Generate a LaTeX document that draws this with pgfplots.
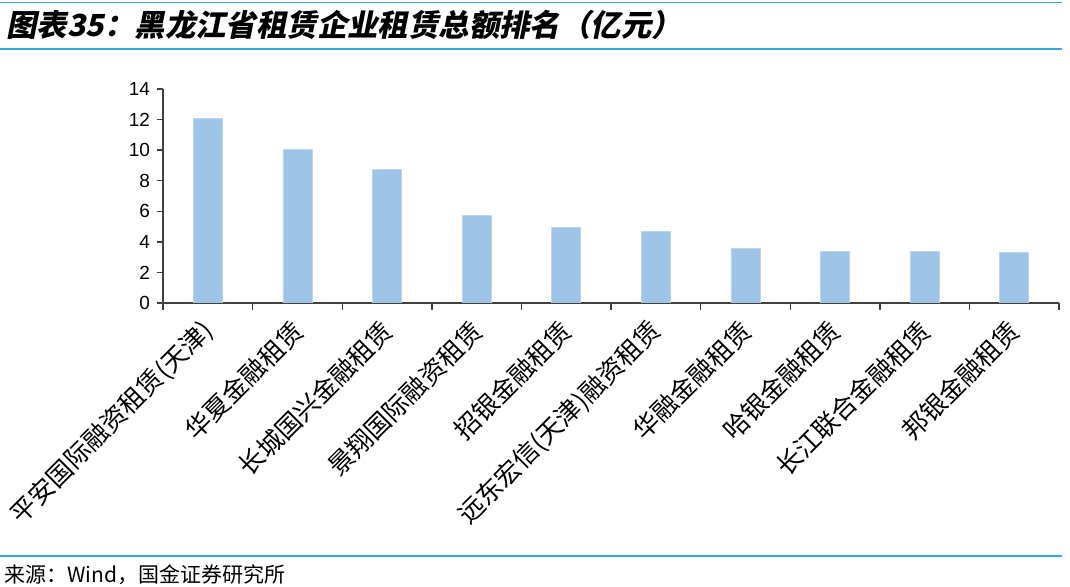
\documentclass[border=0pt]{standalone}
\usepackage{fontspec}
\setmainfont{Liberation Sans}
\newfontfamily\cjk{Noto Sans CJK SC}
\newfontfamily\cjktitle{Noto Sans CJK SC}[FakeSlant=0.2, BoldFeatures={FakeSlant=0.2}]
\usepackage{pgfplots}
\pgfplotsset{compat=1.18}
\definecolor{barblue}{HTML}{9DC3E6}
\definecolor{rulecol}{HTML}{2EA8E8}
\definecolor{axiscol}{HTML}{404040}

\begin{document}
\begin{tikzpicture}
\path[use as bounding box] (0pt,0pt) rectangle (535pt,293.5pt);
% header and footer rules
\draw[rulecol,line width=0.8pt] (0pt,292.3pt) -- (531pt,292.3pt);
\draw[rulecol,line width=1pt] (0pt,269pt) -- (531pt,269pt);
\draw[rulecol,line width=1pt] (0pt,15.5pt) -- (531pt,15.5pt);
\node[anchor=west,inner sep=0pt] at (3pt,281pt)
  {\cjktitle\bfseries\fontsize{15.2}{17}\selectfont 图表35：黑龙江省租赁企业租赁总额排名（亿元）};
\node[anchor=west,inner sep=0pt] at (2pt,6pt)
  {\cjk\fontsize{10.5}{12}\selectfont 来源：Wind，国金证券研究所};

\begin{axis}[
    at={(81.5pt,142pt)}, anchor=south west,
    scale only axis,
    width=448pt, height=107pt,
    xmin=-0.5, xmax=9.5,
    ymin=0, ymax=14,
    ytick={0,2,...,14},
    axis x line*=bottom,
    axis y line*=left,
    axis line style={axiscol, line width=0.7pt},
    tick style={axiscol, line width=0.7pt},
    tick align=outside,
    major tick length=3pt,
    xtick={0,...,9},
    major x tick style={draw=none},
    minor xtick={-0.5,0.5,...,9.5},
    minor tick length=3.5pt,
    xticklabels={平安国际融资租赁(天津), 华夏金融租赁, 长城国兴金融租赁, 景翔国际融资租赁,
      招银金融租赁, 远东宏信(天津)融资租赁, 华融金融租赁, 哈银金融租赁,
      长江联合金融租赁, 邦银金融租赁},
    xticklabel style={font=\cjk\fontsize{12.8}{14}\selectfont, yshift=-7pt, xshift=2pt,
      rotate=45, anchor=east, inner sep=2pt},
    yticklabel style={font=\fontsize{9.5}{11}\selectfont},
    /pgf/number format/assume math mode=true,
    ybar, bar width=14.5pt,
    ]
\addplot[fill=barblue, draw=barblue!70!white] coordinates {
  (0,12.05) (1,10.02) (2,8.72) (3,5.74) (4,4.97)
  (5,4.70) (6,3.58) (7,3.40) (8,3.40) (9,3.30)};
\end{axis}
\end{tikzpicture}
\end{document}
